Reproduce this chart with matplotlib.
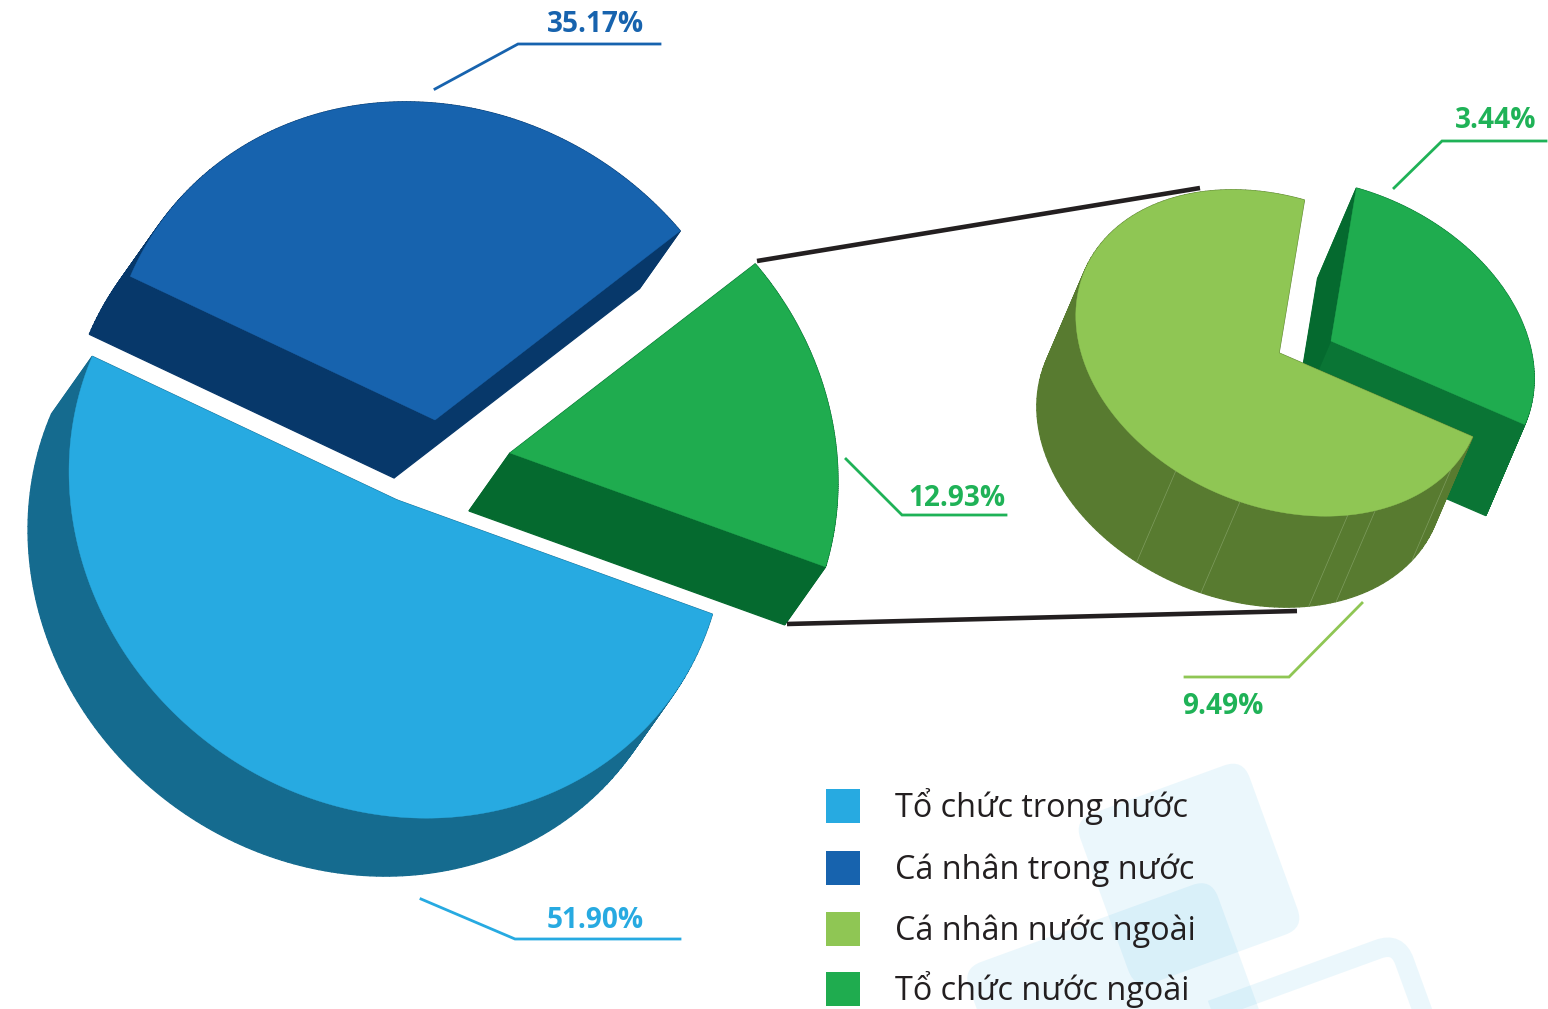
import matplotlib as mpl
mpl.use('Agg')
import matplotlib.pyplot as plt
from matplotlib.patches import FancyBboxPatch, Polygon
from matplotlib.transforms import Affine2D
import numpy as np

main_values = [51.90, 35.17, 12.93]
detail_values = [9.49, 3.44]
main_labels = ['51.90%', '35.17%', '12.93%']
detail_labels = ['9.49%', '3.44%']
legend_names = ['Tổ chức trong nước', 'Cá nhân trong nước', 'Cá nhân nước ngoài', 'Tổ chức nước ngoài']

# the drawing is in perspective, so slices are not exactly to scale
main_stretch = [0.992, 0.925, 1.235]
detail_stretch = [0.969, 1.085]
main_centers = [(397, 500), (435, 420), (510, 453)]
detail_centers = [(1279, 353), (1331, 341)]

SKY, SKY_D = '#27AAE1', '#156B8F'
BLUE, BLUE_D = '#1763AE', '#07386A'
LIME, LIME_D = '#8FC654', '#587B30'
GREEN, GREEN_D = '#1FAC4F', '#056A2F'
GREEN_WALL = '#0A7535'
TEXT_GREEN = '#1FB257'
INK = '#231F20'

plt.rcParams['font.family'] = ['Open Sans', 'DejaVu Sans']

fig = plt.figure(figsize=(15.48, 10.09), dpi=100)
ax = fig.add_axes([0, 0, 1, 1])
ax.set_xlim(0, 1548)
ax.set_ylim(1009, 0)
ax.axis('off')


def outline(center, start, span, a, b, rot):
    # angles in degrees, clockwise on screen because y points down
    t = np.radians(np.linspace(start, start + span, 160))
    r = a * b / np.sqrt((b * np.cos(t - np.radians(rot)))**2 + (a * np.sin(t - np.radians(rot)))**2)
    return center[0] + r * np.cos(t), center[1] + r * np.sin(t)


def draw_wedge(center, start, span, a, b, rot, depth, top, side, z):
    xs, ys = outline(center, start, span, a, b, rot)
    dx, dy = depth
    px = np.r_[center[0], xs, center[0]]
    py = np.r_[center[1], ys, center[1]]
    # sweep every outline segment along the depth, opaque so the seams close
    for i in range(len(px) - 1):
        quad = [(px[i], py[i]), (px[i + 1], py[i + 1]),
                (px[i + 1] + dx, py[i + 1] + dy), (px[i] + dx, py[i] + dy)]
        ax.add_patch(Polygon(quad, fc=side, ec=side, lw=0.9, zorder=z))
    ax.add_patch(Polygon(np.c_[px, py], fc=top, ec=top, lw=0.3, zorder=z + 0.5))


# pale background squares
squares = [(1189, 874, 180, 180, True), (1132, 1048, 265, 265, True), (1260, 1237, 460, 460, False)]
for cx, cy, w, h, filled in squares:
    tr = Affine2D().rotate_deg_around(cx, cy, -20) + ax.transData
    p = FancyBboxPatch((cx - w / 2, cy - h / 2), w, h, boxstyle='round,pad=0,rounding_size=20',
                       fc=SKY if filled else 'none', ec=SKY, alpha=0.09, lw=0 if filled else 14, zorder=0)
    p.set_transform(tr)
    ax.add_patch(p)

# main pie
main_colors = [(SKY, SKY_D), (BLUE, BLUE_D), (GREEN, GREEN_D)]
main_total = sum(main_values)
spans = [v / main_total * 360 * s for v, s in zip(main_values, main_stretch)]
draw_order = [1, 2, 0]
starts = 19.9 + np.r_[0, np.cumsum(spans)[:-1]]
for i in draw_order:
    draw_wedge(main_centers[i], starts[i], spans[i], 338, 307.5, 35.6, (-41, 58),
               main_colors[i][0], main_colors[i][1], 2 + i)

# detail pie
detail_total = sum(detail_values)
dspans = [v / detail_total * 360 * s for v, s in zip(detail_values, detail_stretch)]
dstart = 23.4
a2, b2, rot2, depth2 = 211, 153, 23, (-39, 91)
draw_wedge(detail_centers[1], dstart + dspans[0], dspans[1], a2, b2, rot2, depth2, GREEN, GREEN_WALL, 6)
cx, cy = detail_centers[1]
xs, ys = outline(detail_centers[1], dstart + dspans[0], 0.01, a2, b2, rot2)
ax.add_patch(Polygon([(cx, cy), (xs[0], ys[0]), (xs[0] + depth2[0], ys[0] + depth2[1]), (cx + depth2[0], cy + depth2[1])],
                     fc=GREEN_D, ec=GREEN_D, lw=0.3, zorder=6.2))
draw_wedge(detail_centers[0], dstart, dspans[0], a2, b2, rot2, depth2, LIME, LIME_D, 8)
for seam in [34, 58.6, 67, 104.7, 131.2]:
    xs, ys = outline(detail_centers[0], seam, 0.01, a2, b2, rot2)
    ax.plot([xs[0], xs[0] + depth2[0]], [ys[0], ys[0] + depth2[1]], color='#7E9C5E', lw=0.5, zorder=8.2)

# connectors
ax.plot([757, 1200], [261, 188], color=INK, lw=3.3, zorder=9, solid_capstyle='butt')
ax.plot([787, 1297], [624, 611], color=INK, lw=3.3, zorder=7, solid_capstyle='butt')

# leaders and labels
leaders = [
    ([421, 515, 680], [899, 939, 939], SKY, main_labels[0], 595, 921, SKY),
    ([435, 518, 660], [89, 44, 44], BLUE, main_labels[1], 595, 25, BLUE),
    ([846, 902, 1006], [459, 515, 515], TEXT_GREEN, main_labels[2], 957, 499, TEXT_GREEN),
    ([1362, 1289, 1185], [603, 677, 677], LIME, detail_labels[0], 1223, 706, TEXT_GREEN),
    ([1394, 1442, 1546], [188, 141, 141], TEXT_GREEN, detail_labels[1], 1496, 121, TEXT_GREEN),
]
for lx, ly, c, txt, tx, ty, tc in leaders:
    ax.plot(lx, ly, color=c, lw=2, zorder=10, solid_joinstyle='miter')
    ax.text(tx, ty, txt, color=tc, fontsize=20.2, fontweight='bold', ha='center', va='center', zorder=11)

# legend
legend_colors = [SKY, BLUE, LIME, GREEN]
legend_y = [805.5, 868, 929, 989]
text_y = [806.5, 870.5, 931, 990]
for name, c, y, ty in zip(legend_names, legend_colors, legend_y, text_y):
    ax.add_patch(plt.Rectangle((826, y - 17), 34, 34, fc=c, ec='none', zorder=11))
    ax.text(895, ty, name, color=INK, fontsize=23.3, ha='left', va='center', zorder=11)

fig.savefig('out.png', dpi=100)
